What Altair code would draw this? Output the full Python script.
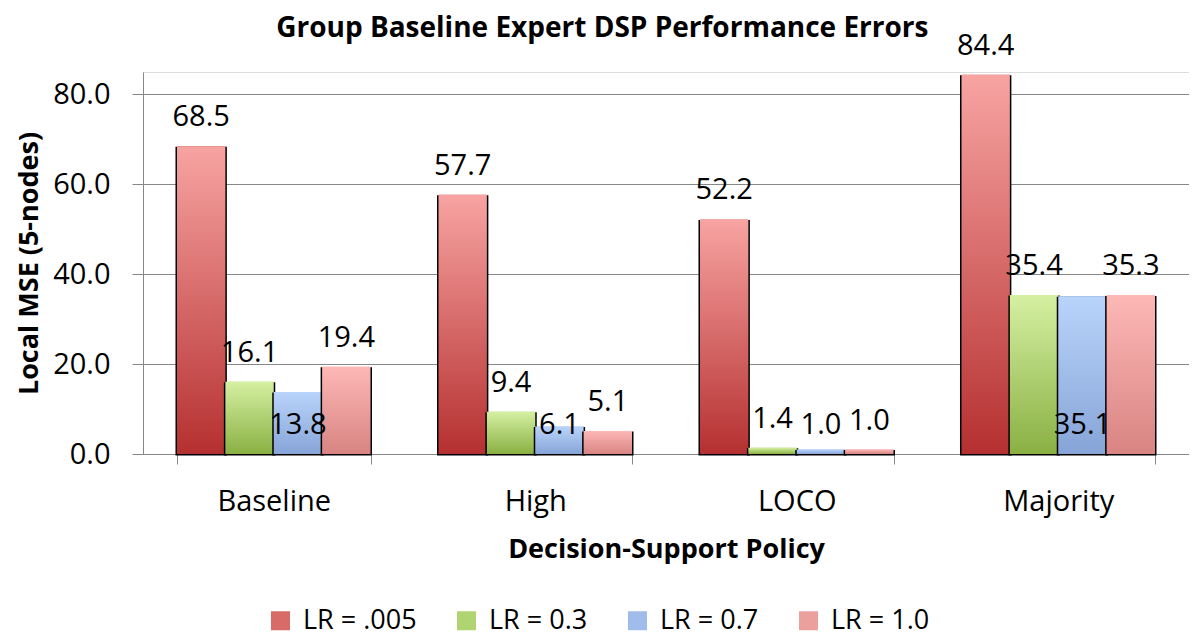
import altair as alt
import pandas as pd

# ---- data ----
policies = ["Baseline", "High", "LOCO", "Majority"]
series = ["LR = .005", "LR = 0.3", "LR = 0.7", "LR = 1.0"]
lr_005 = [68.5, 57.7, 52.2, 84.4]
lr_03 = [16.1, 9.4, 1.4, 35.4]
lr_07 = [13.8, 6.1, 1.0, 35.1]
lr_10 = [19.4, 5.1, 1.0, 35.3]
# in the reference the LR = 0.7 labels sit at the bar base instead of the bar end
label_at_base = [False, False, True, False]
y_ticks = [0, 20, 40, 60, 80]

# ---- styles ----
grad_top = ["#F7A4A2", "#D5F0A2", "#B9D4FB", "#FDB8B6"]
grad_bottom = ["#B53030", "#8AB043", "#86A4D7", "#D88482"]
legend_colors = ["#D86A68", "#B0D472", "#A0BCEA", "#EBA09E"]
FONT = "Open Sans"
GRAY = "#878787"
LBL = 29

rows = []
for s_idx, (name, vals) in enumerate(zip(series, [lr_005, lr_03, lr_07, lr_10])):
    for p, v in zip(policies, vals):
        rows.append({
            "policy": p,
            "series": name,
            "value": v,
            "shadow_top": v - 0.45,
            "label_anchor": 0.0 if label_at_base[s_idx] else v,
        })
df = pd.DataFrame(rows)

Y_TITLE = "Local MSE (5-nodes)"
y_scale = alt.Scale(domain=[0, 85], nice=False, zero=True)

x_enc = alt.X(
    "policy:N",
    sort=policies,
    scale=alt.Scale(domain=policies, paddingInner=0.26, paddingOuter=0.13),
    axis=alt.Axis(
        title="Decision-Support Policy",
        labelAngle=0,
        tickBand="extent",
        tickSize=10,
        tickColor=GRAY,
        domainColor=GRAY,
        labelFontSize=LBL,
        labelFont=FONT,
        labelColor="black",
        labelPadding=23,
        titleFont=FONT,
        titleFontSize=27,
        titleFontWeight="bold",
        titleColor="black",
        titlePadding=20,
    ),
)
xoff_enc = alt.XOffset(
    "series:N", scale=alt.Scale(domain=series, paddingInner=0, paddingOuter=0)
)


def y_enc(field):
    return alt.Y(
        f"{field}:Q",
        scale=y_scale,
        title=Y_TITLE,
        axis=alt.Axis(
            values=y_ticks,
            format=".1f",
            tickSize=11,
            tickColor=GRAY,
            domainColor=GRAY,
            gridColor=GRAY,
            grid=True,
            labelFontSize=LBL,
            labelFont=FONT,
            labelColor="black",
            labelPadding=22,
            titleFont=FONT,
            titleFontSize=27,
            titleFontWeight="bold",
            titleColor="black",
            titlePadding=9,
        ),
    )


base = alt.Chart(df)

legend_layer = base.mark_bar().encode(
    x=x_enc,
    xOffset=xoff_enc,
    y=y_enc("value"),
    color=alt.Color(
        "series:N",
        scale=alt.Scale(domain=series, range=legend_colors),
        legend=alt.Legend(
            orient="none",
            legendX=124,
            legendY=535,
            direction="horizontal",
            title=None,
            symbolType="square",
            symbolSize=361,
            symbolStrokeWidth=0,
            labelFontSize=27,
            labelFont=FONT,
            labelColor="black",
            labelOffset=9,
            columnPadding=36,
        ),
    ),
)

layers = [legend_layer]
for i, name in enumerate(series):
    shadow = (
        base.transform_filter(alt.datum.series == name)
        .mark_bar(color="black", stroke="black", strokeWidth=3)
        .encode(x=x_enc, xOffset=xoff_enc, y=y_enc("shadow_top"))
    )
    grad = (
        base.transform_filter(alt.datum.series == name)
        .mark_bar(
            color=alt.Gradient(
                gradient="linear",
                x1=0, x2=0, y1=0, y2=1,
                stops=[
                    alt.GradientStop(color=grad_top[i], offset=0),
                    alt.GradientStop(color=grad_bottom[i], offset=1),
                ],
            )
        )
        .encode(x=x_enc, xOffset=xoff_enc, y=y_enc("value"))
    )
    layers += [shadow, grad]

labels = base.mark_text(
    dy=-29, fontSize=LBL, font=FONT, color="black", baseline="middle"
).encode(
    x=x_enc,
    xOffset=xoff_enc,
    y=y_enc("label_anchor"),
    text=alt.Text("value:Q", format=".1f"),
)
layers.append(labels)

chart = (
    alt.layer(*layers)
    .properties(
        width=1046,
        height=382,
        title=alt.TitleParams(
            "Group Baseline Expert DSP Performance Errors",
            font=FONT,
            fontSize=28,
            fontWeight="bold",
            color="black",
            anchor="middle",
            frame="bounds",
            offset=-11,
        ),
        padding={"left": 7, "top": 6, "right": 0, "bottom": 2},
    )
    .configure_view(strokeWidth=0)
    .configure(background="white")
)

chart.save("out.html", embed_options={"renderer": "svg", "actions": False})
